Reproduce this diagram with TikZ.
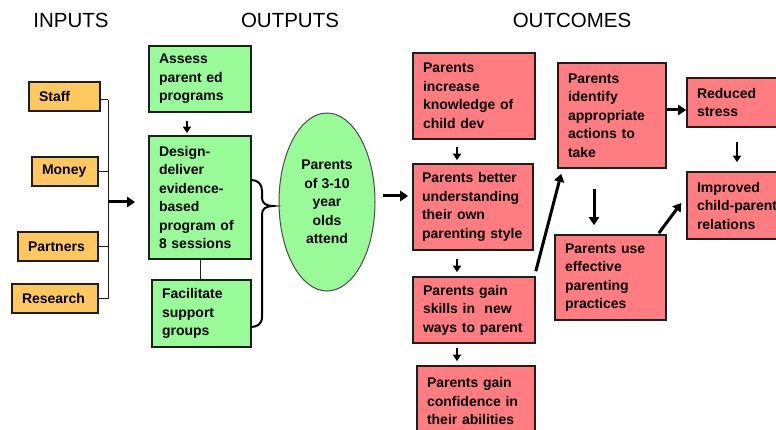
\documentclass[tikz,border=0pt]{standalone}
\usepackage{fontspec}
\setmainfont{Liberation Sans}
\usetikzlibrary{arrows.meta,shapes.geometric}
\definecolor{inorange}{HTML}{FFC85E}
\definecolor{outgreen}{HTML}{98FB98}
\definecolor{ocred}{HTML}{FF7C80}
\definecolor{edgec}{HTML}{1E1E1E}
\begin{document}
\begin{tikzpicture}[x=1pt,y=-1pt,
  basebox/.style={draw=edgec, line width=1.6pt, rectangle, inner xsep=10pt, inner ysep=2pt,
    align=left, text=black, font=\bfseries\fontsize{14pt}{18.5pt}\selectfont},
  inbox/.style={basebox, fill=inorange},
  outbox/.style={basebox, fill=outgreen},
  ocbox/.style={basebox, fill=ocred},
  header/.style={font=\fontsize{20.5pt}{24pt}\selectfont, text=black, inner sep=0pt},
  thinline/.style={draw=edgec, line width=1pt},
  sarr/.style={draw=black, line width=2pt, -{Triangle[width=8pt,length=6.5pt]}},
  barr/.style={draw=black, line width=3pt, -{Triangle[width=10pt,length=8pt]}},
  bracestyle/.style={draw=black, line width=2pt}
]
\useasboundingbox (0,0) rectangle (776,430);

% headers
\node[header] (hin) at (71,20) {INPUTS};
\node[header] (hout) at (290,20) {OUTPUTS};
\node[header] (hoc) at (572,20) {OUTCOMES};

% inputs
\node[inbox, minimum width=71pt, minimum height=29pt, text width=51pt] (staff) at (64.5,96.5) {Staff};
\node[inbox, minimum width=66pt, minimum height=29pt, text width=46pt] (money) at (65,171.5) {Money};
\node[inbox, minimum width=80pt, minimum height=29pt, text width=60pt] (partners) at (58,246.5) {Partners};
\node[inbox, minimum width=86pt, minimum height=29pt, text width=66pt] (research) at (55,298.5) {Research};

% outputs
\node[outbox, minimum width=102pt, minimum height=66pt, text width=82pt] (assess) at (200,79) {Assess\\parent ed\\programs};
\node[outbox, minimum width=102pt, minimum height=123pt, text width=82pt] (design) at (200,197.5) {Design-\\deliver\\evidence-\\based\\program of\\8 sessions};
\node[outbox, minimum width=99pt, minimum height=67pt, text width=79pt] (facil) at (201.5,313.5) {Facilitate\\support\\groups};
\node[ellipse, draw=edgec!80, line width=1pt, fill=outgreen, minimum width=96pt, minimum height=178pt, inner sep=0pt,
  align=center, font=\bfseries\fontsize{14pt}{18.5pt}\selectfont] (ell) at (327,202) {Parents\\of 3-10\\year\\olds\\attend};

% outcomes
\node[ocbox, minimum width=122pt, minimum height=86pt, text width=102pt] (know) at (474,96) {Parents\\increase\\knowledge of\\child dev};
\node[ocbox, minimum width=120pt, minimum height=86pt, inner xsep=9pt, text width=102pt] (under) at (473,207) {\mbox{Parents better}\\\mbox{understanding}\\\mbox{their own}\\\mbox{parenting style}};
\node[ocbox, minimum width=122pt, minimum height=66pt, text width=102pt] (skills) at (474,310) {Parents gain\\\mbox{skills in\ \ new}\\\mbox{ways to parent}};
\node[ocbox, minimum width=118pt, minimum height=70pt, text width=98pt] (conf) at (476,401) {Parents gain\\\mbox{confidence in}\\\mbox{their abilities}};
\node[ocbox, minimum width=108pt, minimum height=105pt, text width=88pt] (ident) at (612,115.5) {Parents\\identify\\appropriate\\actions to\\take};
\node[ocbox, minimum width=111pt, minimum height=85pt, text width=91pt] (use) at (610.5,277.5) {Parents use\\effective\\parenting\\practices};
\node[ocbox, minimum width=103pt, minimum height=49pt, text width=83pt] (reduced) at (738.5,102.5) {Reduced\\stress};
\node[ocbox, minimum width=103pt, minimum height=67pt, text width=83pt] (improved) at (738.5,205.5) {Improved\\\mbox{child-parent}\\relations};

% helper coordinates
\coordinate (bt) at (108,100);
\coordinate (bb) at (108,299);
\coordinate (bm) at (108,202);
\coordinate (colA) at (457,0);
\coordinate (colB) at (594,0);
\coordinate (colC) at (737,0);
\coordinate (colD) at (187,0);
\coordinate (rowE) at (0,110);
\coordinate (rowF) at (0,196);

% input bus
\draw[thinline] (bt) -- (bb);
\draw[thinline] (staff.east |- bt) -- (bt);
\draw[thinline] (money.east) -- (money.east -| bt);
\draw[thinline] (partners.east) -- (partners.east -| bt);
\draw[thinline] (research.east) -- (research.east -| bt);
\draw[barr, shorten >=13pt] (bm) -- (design.west |- bm);

% outputs connectors
\draw[sarr, shorten <=8pt, shorten >=2pt] (assess.south -| colD) -- (design.north -| colD);
\draw[thinline] (design.south) -- (design.south |- facil.north);
\draw[bracestyle] (251,180) .. controls (258,180) and (262,184) .. (262,191) -- (262,198)
  .. controls (262,203) and (266,206) .. (273,206)
  .. controls (266,206) and (262,209) .. (262,214) -- (262,317)
  .. controls (262,324) and (257,327) .. (251,327);
\draw[barr, shorten <=7pt, shorten >=4pt] (ell.east |- rowF) -- (under.west |- rowF);

% outcomes connectors
\draw[sarr, shorten <=7pt, shorten >=3pt] (know.south -| colA) -- (under.north -| colA);
\draw[sarr, shorten <=8pt, shorten >=4pt] (under.south -| colA) -- (skills.north -| colA);
\draw[sarr, shorten <=4pt, shorten >=4pt] (skills.south -| colA) -- (conf.north -| colA);
\draw[barr] ([yshift=5pt]skills.north east) -- ([shift={(4pt,-5pt)}]ident.south west);
\draw[barr, shorten <=20pt, shorten >=9pt] (ident.south -| colB) -- (use.north -| colB);
\draw[barr] ([shift={(-8pt,1pt)}]use.north east) -- ([shift={(-5pt,2.5pt)}]improved.west);
\draw[barr] (ident.east |- rowE) -- (reduced.west |- rowE);
\draw[sarr, line width=2.4pt, shorten <=14pt, shorten >=9pt] (reduced.south -| colC) -- (improved.north -| colC);
\end{tikzpicture}
\end{document}
